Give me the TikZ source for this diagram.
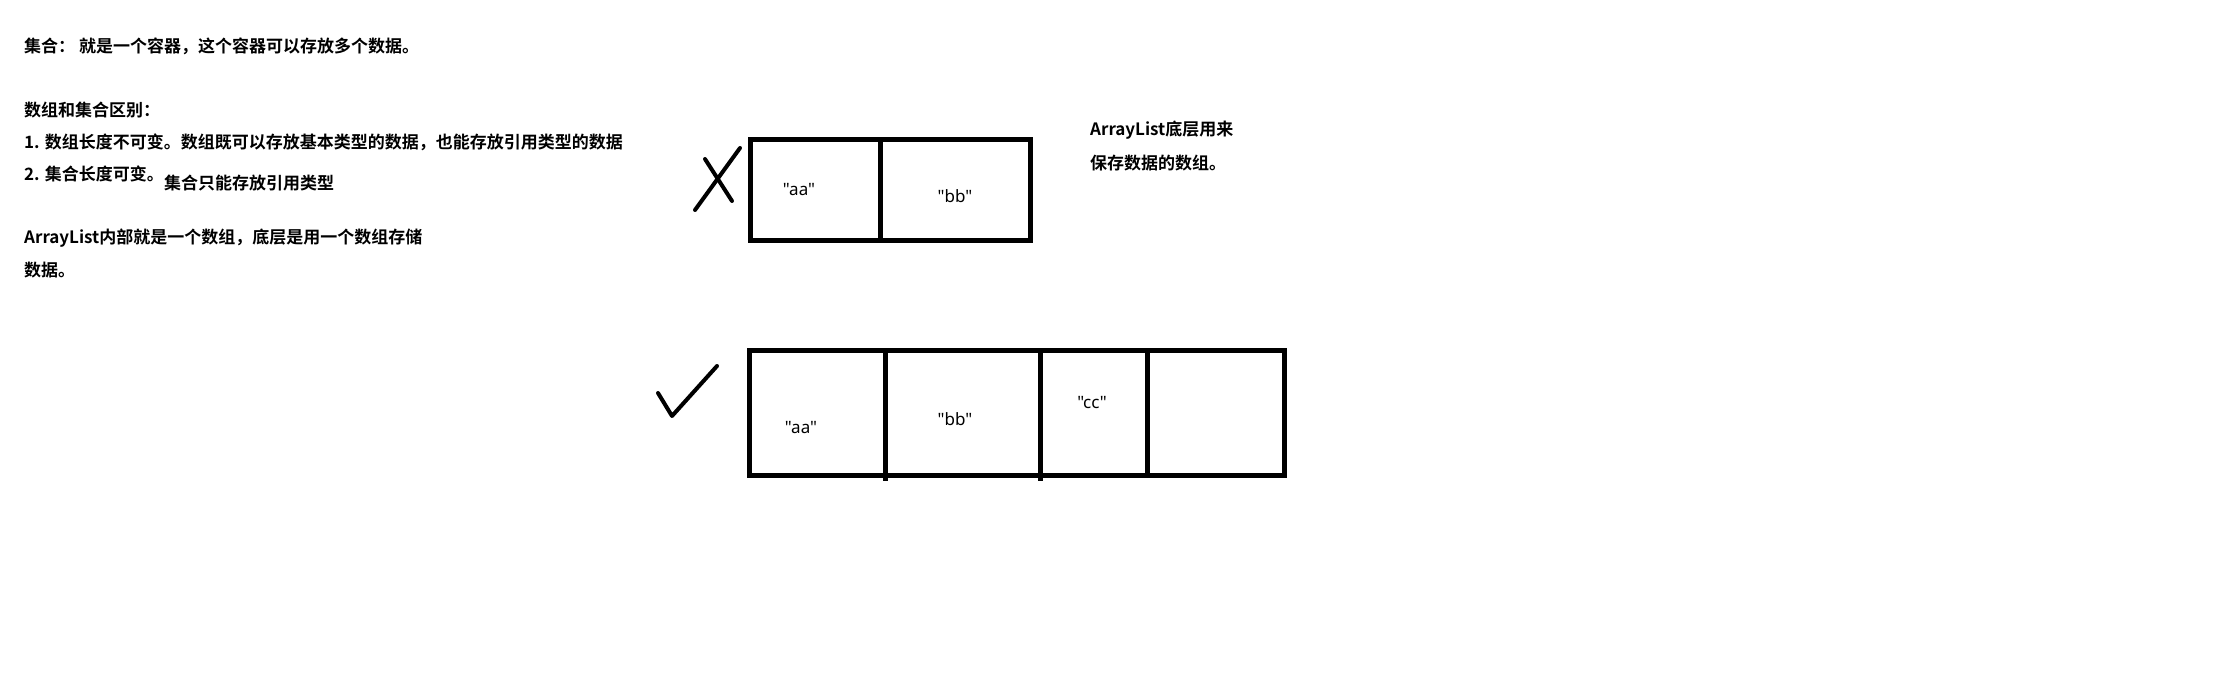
\documentclass[tikz,border=0pt]{standalone}
\usepackage{fontspec}
\setmainfont{Noto Sans CJK SC}[BoldFont={Noto Sans CJK SC Bold}]
\newfontfamily\quotefont{Noto Sans}[Ligatures=TeXOff]
\begin{document}
\begin{tikzpicture}[x=1pt,y=-1pt,
  txt/.style={anchor=west,inner sep=0pt,font=\fontsize{17}{20}\selectfont\bfseries},
  qt/.style={inner sep=0pt,font=\fontsize{17}{20}\selectfont\quotefont},
  cell/.style={line width=5pt},
  penstroke/.style={line width=4pt,line cap=round,line join=round}]
\useasboundingbox[fill=white] (0,0) rectangle (2220,683);
% left text
\node[txt] (t1) at (24,46) {集合：\ 就是一个容器，这个容器可以存放多个数据。};
\node[txt] (t2) at (24,110) {数组和集合区别：};
\node[txt] (t3) at (24,142) {1. 数组长度不可变。数组既可以存放基本类型的数据，也能存放引用类型的数据};
\node[txt] (t4) at (24,174) {2. 集合长度可变。};
\node[txt] (t5) at (164,183) {集合只能存放引用类型};
\node[txt] (t6) at (24,238) {ArrayList内部就是一个数组，底层是用一个数组存储};
\node[txt] (t7) at (24,270) {数据。};
% right text
\node[txt] (t8) at (1090,130) {ArrayList底层用来};
\node[txt] (t9) at (1090,163) {保存数据的数组。};
% first array
\draw[cell] (750,139) rectangle (1030,240);
\draw[cell] (880,139) -- (880,240);
\node[qt] (a1) at (799,190) {"aa"};
\node[qt] (b1) at (955,196) {"bb"};
% X mark
\coordinate (x1) at (695,210);
\coordinate (x2) at (740,148);
\coordinate (x3) at (705,159);
\coordinate (x4) at (732,201);
\draw[penstroke] (x1) -- (x2);
\draw[penstroke] (x3) -- (x4);
% second array
\draw[cell] (749,350) rectangle (1284,475);
\draw[cell] (885,350) -- (885,481);
\draw[cell] (1040,350) -- (1040,481);
\draw[cell] (1147,350) -- (1147,475);
\node[qt] (a2) at (801,428) {"aa"};
\node[qt] (b2) at (955,419) {"bb"};
\node[qt] (c2) at (1092,403) {"cc"};
% check mark
\coordinate (c1) at (658,393);
\coordinate (c2m) at (672,416);
\coordinate (c3) at (717,366);
\draw[penstroke] (c1) -- (c2m) -- (c3);
\end{tikzpicture}
\end{document}
